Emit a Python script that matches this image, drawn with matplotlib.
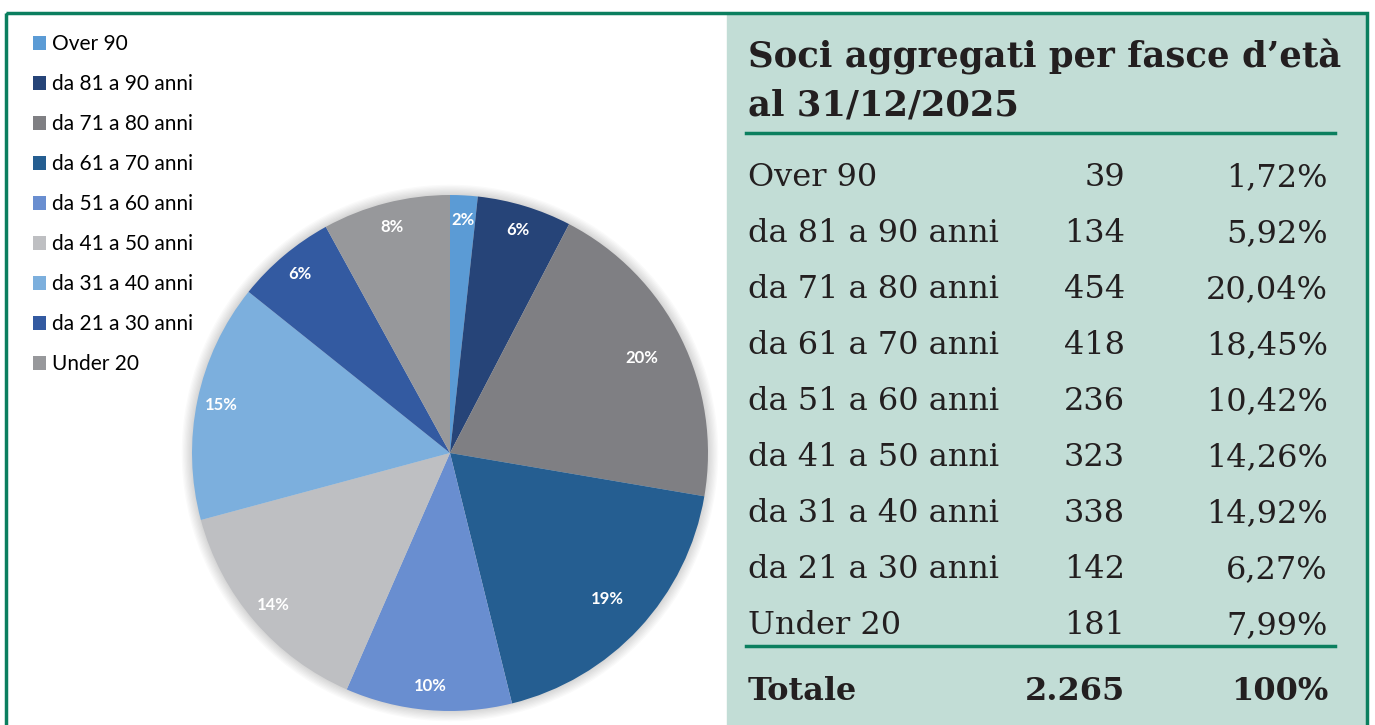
import numpy as np
import matplotlib.pyplot as plt
from matplotlib.patches import Rectangle, Circle

# data
fasce = ['Over 90', 'da 81 a 90 anni', 'da 71 a 80 anni', 'da 61 a 70 anni',
         'da 51 a 60 anni', 'da 41 a 50 anni', 'da 31 a 40 anni',
         'da 21 a 30 anni', 'Under 20']
soci = [39, 134, 454, 418, 236, 323, 338, 142, 181]
perc_tab = ['1,72%', '5,92%', '20,04%', '18,45%', '10,42%', '14,26%',
            '14,92%', '6,27%', '7,99%']
perc_pie = ['2%', '6%', '20%', '19%', '10%', '14%', '15%', '6%', '8%']
totale = '2.265'
colori = ['#5B9BD5', '#264478', '#7F7F83', '#255E91', '#698ED0',
          '#BEBFC2', '#7CAFDD', '#335AA1', '#97989B']

W, H = 1375, 725
fig = plt.figure(figsize=(W / 100, H / 100), dpi=100)

# background / frame, pixel coordinates
bg = fig.add_axes([0, 0, 1, 1])
bg.set_xlim(0, W)
bg.set_ylim(H, 0)
bg.axis('off')
bg.add_patch(Rectangle((727, 13), 640, 720, color='#C2DDD6', zorder=0))
bg.add_patch(Rectangle((6.5, 12.5), 1361, 730, fill=False, ec='#0B7F5F', lw=2.5))

# pie (axes a bit larger than the pie so the soft shadow is not clipped)
cx, cy, r = 450, 453, 258
m = 1.1
ax = fig.add_axes([(cx - m * r) / W, (H - cy - m * r) / H,
                   2 * m * r / W, 2 * m * r / H])
for k in range(8):
    ax.add_patch(Circle((0, 0), 1.0 + 0.005 * (k + 1), color='#000000',
                        alpha=0.02, lw=0, zorder=0))
wedges, _ = ax.pie(soci, colors=colori, startangle=90, counterclock=False,
                   radius=1, wedgeprops=dict(linewidth=0))
for w in wedges:
    w.set_zorder(2)
for w, lab in zip(wedges, perc_pie):
    ang = np.deg2rad((w.theta1 + w.theta2) / 2)
    d = 0.83 if w.theta2 - w.theta1 > 60 else 0.905
    ax.text(d * np.cos(ang), d * np.sin(ang), lab, color='white',
            fontsize=12, fontweight='bold', ha='center', va='center',
            family='Lato', zorder=3)
ax.set_xlim(-m, m)
ax.set_ylim(-m, m)
ax.set_aspect('equal')
ax.axis('off')

# legend
fig.legend(wedges, fasce, loc='upper left', bbox_to_anchor=(23 / W, 1 - 24 / H),
           frameon=False, prop=dict(family='Lato', size=15),
           handlelength=0.6, handleheight=0.6, handletextpad=0.3,
           labelspacing=0.96, borderpad=0)

# table
serif = 'DejaVu Serif'
ink = '#231F20'
bg.text(748, 67, 'Soci aggregati per fasce d\u2019età', family=serif,
        fontweight='bold', fontsize=25.5, va='baseline', color=ink)
bg.text(748, 115, 'al 31/12/2025', family=serif, fontweight='bold',
        fontsize=25.5, va='baseline', color=ink)
bg.plot([746, 1335], [133, 133], color='#0B7F5F', lw=2.5)
bg.plot([746, 1335], [646, 646], color='#0B7F5F', lw=2.5)
for i, (f, n, p) in enumerate(zip(fasce, soci, perc_tab)):
    y = 186 + 56 * i
    bg.text(748, y, f, family=serif, fontsize=23, va='baseline', color=ink)
    bg.text(1125, y, str(n), family=serif, fontsize=23, va='baseline',
            ha='right', color=ink)
    bg.text(1328, y, p, family=serif, fontsize=23, va='baseline',
            ha='right', color=ink)
bg.text(748, 700, 'Totale', family=serif, fontweight='bold', fontsize=23,
        va='baseline', color=ink)
bg.text(1125, 700, totale, family=serif, fontweight='bold', fontsize=23,
        va='baseline', ha='right', color=ink)
bg.text(1328, 700, '100%', family=serif, fontweight='bold', fontsize=23,
        va='baseline', ha='right', color=ink)

fig.savefig('out.png', dpi=100)
